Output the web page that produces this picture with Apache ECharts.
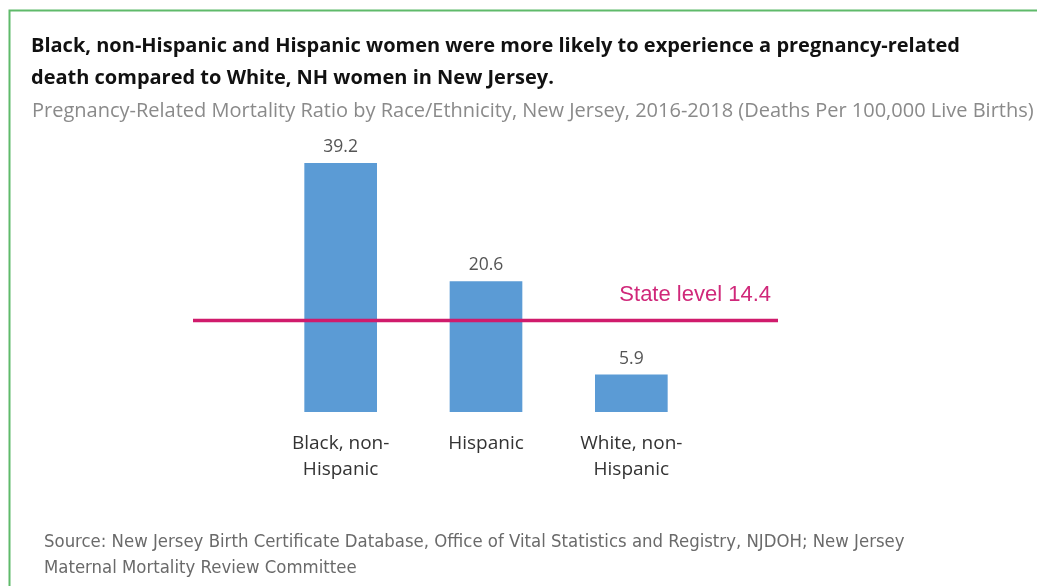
<!DOCTYPE html>
<html>
<head>
<meta charset="utf-8">
<script src="https://cdn.jsdelivr.net/npm/echarts@6/dist/echarts.min.js"></script>
<style>
  html, body { margin: 0; padding: 0; background: #fff; }
  #chart { width: 1037px; height: 586px; }
</style>
</head>
<body>
<div id="chart"></div>
<script>
// data
const categories = ["Black, non-\nHispanic", "Hispanic", "White, non-\nHispanic"];
const ratios = [39.2, 20.6, 5.9];
const stateLevel = 14.4;
const stateLine = [[0, stateLevel], [1, stateLevel]];

const chart = echarts.init(document.getElementById("chart"));

chart.setOption({
  backgroundColor: "#fff",
  animation: false,
  title: [
    {
      text: "Black, non-Hispanic and Hispanic women were more likely to experience a pregnancy-related\ndeath compared to White, NH women in New Jersey.",
      left: 26,
      top: 25,
      textStyle: {
        fontFamily: "Open Sans",
        fontWeight: "bold",
        fontSize: 20,
        lineHeight: 32,
        color: "#111",
      },
    },
    {
      text: "Pregnancy-Related Mortality Ratio by Race/Ethnicity, New Jersey, 2016-2018 (Deaths Per 100,000 Live Births)",
      left: 27,
      top: 96,
      textStyle: {
        fontFamily: "Open Sans",
        fontWeight: "normal",
        fontSize: 20,
        color: "#8a8a8a",
      },
    },
    {
      text: "Source: New Jersey Birth Certificate Database, Office of Vital Statistics and Registry, NJDOH; New Jersey\nMaternal Mortality Review Committee",
      left: 39,
      top: 524,
      textStyle: {
        fontFamily: "DejaVu Sans Condensed",
        fontWeight: "normal",
        fontSize: 18.4,
        lineHeight: 26,
        color: "#6a6a6a",
      },
    },
  ],
  graphic: [
    {
      type: "rect",
      shape: { x: 9.5, y: 10.5, width: 1040, height: 590 },
      style: { fill: "none", stroke: "#5fba6a", lineWidth: 2 },
      silent: true,
    },
  ],
  grid: [
    // bars
    { left: 268, right: 333, top: 158, bottom: 174 },
    // state level line, wider than the bars
    { left: 193, right: 259, top: 158, bottom: 174 },
  ],
  xAxis: [
    {
      type: "category",
      gridIndex: 0,
      data: categories,
      axisLine: { show: false },
      axisTick: { show: false },
      axisLabel: {
        margin: 19,
        fontFamily: "Open Sans",
        fontSize: 19,
        lineHeight: 26,
        color: "#333",
      },
    },
    { type: "value", gridIndex: 1, min: 0, max: 1, show: false },
  ],
  yAxis: [
    { type: "value", gridIndex: 0, min: 0, max: 40, show: false },
    { type: "value", gridIndex: 1, min: 0, max: 40, show: false },
  ],
  series: [
    {
      type: "bar",
      xAxisIndex: 0,
      yAxisIndex: 0,
      data: ratios,
      barWidth: "50%",
      itemStyle: { color: "#5b9bd5" },
      label: {
        show: true,
        position: "top",
        distance: 7,
        fontFamily: "Open Sans",
        fontSize: 17.5,
        color: "#555",
      },
    },
    {
      type: "line",
      xAxisIndex: 1,
      yAxisIndex: 1,
      data: stateLine,
      symbol: "none",
      z: 5,
      lineStyle: { color: "#d01b6c", width: 3.5 },
      endLabel: {
        show: true,
        formatter: "State level " + stateLevel,
        align: "right",
        verticalAlign: "bottom",
        offset: [-15, -15],
        fontFamily: "Liberation Sans",
        fontSize: 22,
        color: "#d0287a",
      },
    },
  ],
});
</script>
</body>
</html>
